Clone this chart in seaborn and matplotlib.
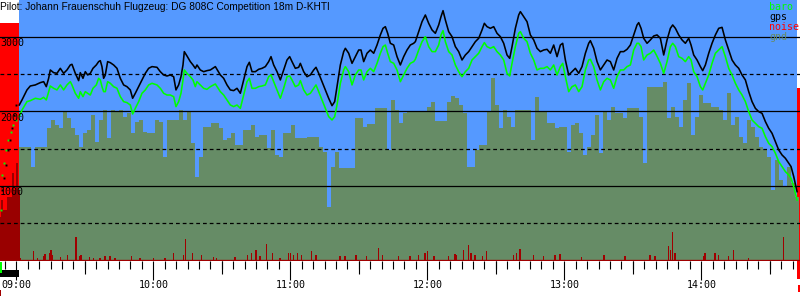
import matplotlib
matplotlib.use("Agg")
import matplotlib.pyplot as plt
import matplotlib.transforms as mtransforms
import numpy as np
import seaborn as sns

TITLE = "Pilot: Johann Frauenschuh Flugzeug: DG 808C Competition 18m D-KHTI"

# ---- flight track: minutes after 09:00, GPS altitude and baro altitude (m)
track_t = [1.31, 2.48, 4.67, 6.13, 8.32, 10.51, 11.97, 13.14, 14.16, 14.89, 16.35, 17.81, 19.27, 20.73, 22.19,
           23.65, 24.38, 25.84, 27.3, 28.03, 29.2, 30.22, 31.24, 32.41, 33.58, 35.04, 36.06, 36.79, 37.52, 38.25,
           38.98, 40.0, 41.17, 42.63, 44.09, 45.55, 47.01, 48.47, 49.93, 50.95, 52.12, 53.58, 55.04, 56.5, 57.96,
           59.42, 61.61, 63.07, 64.53, 65.99, 67.45, 68.91, 69.93, 71.1, 72.12, 73.0, 73.58, 74.75, 76.21, 77.38,
           78.4, 79.13, 80.59, 82.05, 83.51,
           84.98, 87.17, 89.36, 90.82, 92.28, 93.74, 95.2, 96.66, 98.12, 99.58, 101.04, 102.06, 103.23, 104.69,
           106.15, 107.61, 109.07, 110.53, 111.55, 112.72, 114.18, 115.64, 117.1, 118.56, 119.73, 120.75, 122.21,
           123.67, 124.4, 125.86, 127.32, 128.78, 130.24, 131.26, 132.43, 133.89, 135.35, 136.81, 138.27, 139.44,
           140.46, 141.92, 143.38, 144.11, 145.57, 147.03, 148.49, 149.95, 150.97, 152.14, 153.6, 155.06, 156.52,
           157.98, 159.44, 160.61, 161.63, 162.65, 163.82, 165.28, 166.74,
           168.2, 169.66, 171.12, 172.58, 174.04, 174.77, 176.23, 177.69, 179.15, 180.61, 182.07, 183.53, 184.99,
           186.01, 186.89, 187.91, 189.37, 190.83, 192.29, 193.75, 195.21, 196.67, 198.13, 199.59, 201.05, 202.51,
           203.97, 204.99, 206.16, 207.62, 209.08, 210.54, 212.0, 213.46, 214.92, 216.09, 217.11, 218.57, 220.03,
           220.76, 222.22, 223.68, 225.14, 226.6, 228.06, 229.52, 230.98, 232.44, 233.9, 235.36, 236.82, 238.28,
           239.3, 240.47, 241.93, 243.39, 244.85, 246.31, 247.77, 249.23, 250.69, 251.42, 252.88, 254.34,
           255.8, 257.26, 258.72, 260.18, 261.64, 263.1, 264.56, 266.02, 267.48, 268.94, 270.4, 271.86, 272.59,
           273.61, 274.78, 276.24, 277.7, 279.16, 280.62, 282.08, 283.54, 285.0, 286.46, 287.48, 288.65, 290.11,
           291.57, 293.03, 294.49, 295.51, 296.68, 298.14, 299.6, 300.62, 301.79, 303.25, 304.71, 306.17, 307.63,
           309.09, 310.55, 312.01, 313.47, 314.93, 316.39, 317.85, 319.31, 320.77, 322.23, 323.69, 325.15, 326.61,
           328.07, 329.53, 330.99, 332.45, 333.91, 335.37, 336.83, 338.29, 339.31, 340.48, 341.94]

gps_alt = [2087, 2154, 2289, 2342, 2356, 2387, 2400, 2333, 2445, 2557, 2521, 2512, 2579, 2512, 2557,
           2624, 2633, 2512, 2414, 2521, 2445, 2534, 2490, 2512, 2579, 2624, 2669, 2682, 2602, 2445,
           2490, 2669, 2655, 2624, 2579, 2445, 2356, 2333, 2289, 2177, 2244, 2333, 2423, 2512, 2579,
           2602, 2593, 2534, 2490, 2476, 2490, 2467, 2289, 2356, 2467, 2624, 2803, 2745, 2669, 2624,
           2579, 2624, 2557, 2534, 2548,
           2557, 2602, 2490, 2445, 2356, 2289, 2280, 2311, 2244, 2423, 2602, 2660, 2534, 2534,
           2566, 2579, 2602, 2669, 2736, 2624, 2534, 2423, 2557, 2691, 2736, 2669, 2579,
           2593, 2646, 2534, 2467, 2490, 2557, 2593, 2512, 2400, 2289, 2177, 2078, 2132,
           2333, 2624, 2803, 2848, 2781, 2646, 2736, 2825, 2825, 2669, 2781, 2825, 2781,
           2892, 3027, 3116, 3138, 3049, 2915, 2892, 2736,
           2624, 2736, 2825, 2892, 2915, 2937, 3071, 3205, 3295, 3183, 3094, 3049, 3161,
           3273, 3353, 3228, 3071, 3004, 2870, 2803, 2691, 2758, 2803, 2870, 2937, 2982,
           3094, 3183, 3138, 3116, 3138, 3049, 3004, 2915, 2758, 2713, 2870, 3116, 3295,
           3340, 3273, 3205, 3027, 2960, 2848, 2803, 2825, 2834, 2781, 2892, 2736, 2892,
           2915, 2691, 2490, 2534, 2579, 2512, 2602, 2781, 2915, 2950, 2848, 2669,
           2557, 2624, 2691, 2669, 2557, 2713, 2803, 2803, 2834, 2892, 3027, 3161, 3192,
           3116, 2982, 2915, 2960, 3013, 3027, 2982, 2758, 2960, 3116, 3161, 3116, 3027,
           2960, 2915, 2982, 2892, 2758, 2691, 2602, 2548, 2624, 2781, 2915, 3027, 3116,
           3129, 2960, 2825, 2691, 2624, 2579, 2490, 2423, 2266, 2132, 2042, 1998, 1975,
           1864, 1774, 1707, 1595, 1483, 1416, 1372, 1305, 1260, 1126, 924]

baro_alt = [1931, 2018, 2132, 2145, 2177, 2163, 2190, 2154, 2266, 2342, 2311, 2289, 2356, 2289, 2356,
            2400, 2356, 2244, 2177, 2266, 2199, 2266, 2244, 2221, 2311, 2356, 2445, 2423, 2333, 2266,
            2266, 2400, 2378, 2333, 2311, 2199, 2132, 2119, 2087, 1966, 2042, 2132, 2244, 2289, 2356,
            2378, 2356, 2311, 2244, 2221, 2221, 2199, 2065, 2132, 2244, 2423, 2557, 2512, 2467, 2423,
            2333, 2400, 2356, 2311, 2297,
            2333, 2369, 2266, 2221, 2154, 2087, 2065, 2087, 2042, 2221, 2400, 2445, 2311, 2311,
            2333, 2342, 2356, 2467, 2490, 2400, 2289, 2177, 2311, 2467, 2476, 2423, 2333,
            2356, 2414, 2289, 2221, 2244, 2311, 2356, 2266, 2154, 2042, 1931, 1886, 1931,
            2087, 2378, 2557, 2602, 2534, 2356, 2490, 2557, 2557, 2423, 2534, 2579, 2534,
            2646, 2781, 2870, 2892, 2781, 2669, 2646, 2557,
            2400, 2490, 2579, 2646, 2669, 2700, 2825, 2937, 3004, 2870, 2803, 2803, 2892,
            3027, 3085, 2937, 2803, 2758, 2624, 2534, 2467, 2534, 2579, 2691, 2736, 2781,
            2870, 2924, 2870, 2848, 2870, 2803, 2758, 2691, 2512, 2476, 2646, 2870, 3049,
            3071, 2982, 2937, 2781, 2691, 2557, 2579, 2579, 2602, 2557, 2624, 2490, 2602,
            2646, 2467, 2266, 2333, 2356, 2266, 2333, 2557, 2691, 2700, 2602, 2423,
            2289, 2400, 2445, 2423, 2311, 2467, 2557, 2557, 2602, 2624, 2825, 2915, 2915,
            2870, 2691, 2758, 2781, 2825, 2740, 2646, 2512, 2669, 2870, 2915, 2870, 2736,
            2713, 2669, 2736, 2691, 2534, 2467, 2333, 2289, 2378, 2490, 2646, 2781, 2825,
            2870, 2736, 2579, 2490, 2378, 2289, 2221, 2132, 1998, 1886, 1841, 1796, 1774,
            1662, 1573, 1528, 1439, 1327, 1260, 1193, 1148, 1103, 991, 812]

# ---- fixes logged before the start (tow / engine climb)
pre_t = [-6.7, -6.3, -5.4, -4.5, -3.6, -2.3, -1.4, -0.1]
pre_baro = [678, 1147, 1308, 1483, 1617, 1724, 1818, 1885]
pre_gps_t = [-6.3, -5.4, -4.5, -3.6, -2.8, -1.9, -1.0, -0.1]
pre_gps = [946, 1107, 1281, 1483, 1617, 1778, 1952, 2086]

# ---- ground elevation under the track, logged every 105 s from 09:01:18
gnd_start = 1.31
gnd_step = 1.752
gnd_alt = [1519, 1519, 1519, 1260, 1528, 1528, 1528, 1774, 1886, 1819, 1774, 2003, 1908, 1774, 1685, 1528,
           1707, 1752, 1953, 1595, 1886, 2020, 1640, 2020, 1998, 2020, 1931, 1975, 1707, 1864, 1886, 1729,
           1707, 1707, 1886, 1864, 1394, 1886, 1886, 1886, 2020, 1886, 1998, 1573, 1126, 1394, 1796, 1796,
           1841, 1841, 1774, 1618, 1640, 1707, 1550, 1550, 1752, 1752, 1819, 1662, 1685, 1685, 1506, 1752,
           1416, 1394, 1707, 1707, 1819, 1640, 1640, 1640, 1662, 1662, 1662, 1528, 1461, 723, 1260, 1461,
           1237, 1237, 1237, 1237, 1908, 1908, 1796, 1832, 1832, 2042, 2042, 2042, 1483, 2154, 2020, 1841,
           1975, 1998, 1998, 1998, 1998, 1998, 2065, 2132, 1873, 1873, 1873, 2132, 2208, 2177, 2087, 1975,
           1260, 1260, 1483, 1550, 1550, 1998, 2445, 2087, 1774, 2020, 1931, 1796, 2020, 2020, 2020, 2020,
           1618, 2190, 1998, 1998, 1841, 1841, 1774, 1796, 1796, 1461, 1819, 1841, 1707, 1416, 1528, 1685,
           1953, 1439,
           1998, 1886, 2065, 1975, 1975, 1908, 2042, 2042, 2042, 1931, 1305, 2324, 2324, 2324, 2324, 2400,
           1908, 2065, 1931, 1796, 2154, 2378, 1685, 1931, 2221, 2110, 2110, 2065, 2065, 2020, 1886, 2244,
           1819, 1931, 1662, 1573, 1886, 1796, 1662, 1528, 1483, 1394, 946, 1349, 1081, 991, 1260, 1036, 857]

# ---- noise (ENL) peaks, same vertical scale
noise_t = [1.6, 7.4, 9.2, 11.8, 12.6, 14.5, 15.2, 15.9, 19.4, 22.5, 26.1, 27.6, 28.3, 32.0, 33.7, 36.7, 38.8,
           41.0, 43.2, 50.5, 54.2, 60.0, 65.1, 68.8, 73.1, 74.0, 77.3, 81.2, 86.3, 87.8, 95.8, 101.2, 103.1,
           105.0, 106.7, 109.7, 112.3, 115.5, 119.3, 120.2, 121.3, 123.1, 125.0, 129.4, 131.3, 141.8, 144.0,
           148.8, 153.5, 158.6, 160.5, 167.3, 172.4, 176.1, 179.0, 180.2, 183.0, 189.2, 192.2, 192.9, 195.8,
           198.0, 199.2, 200.9, 204.3, 206.0, 217.7, 219.2, 220.6, 226.4, 230.8, 236.0, 238.1, 247.6, 257.4,
           266.6, 277.5, 279.7, 285.5, 286.6, 287.3, 288.5, 300.9, 301.6, 306.0, 307.5, 311.8, 314.0, 320.6,
           335.9]
noise_val = [31, 121, 31, 54, 90, 98, 144, 76, 44, 76, 322, 54, 76, 44, 31, 31, 54,
             67, 31, 63, 31, 31, 31, 107, 76, 282, 98, 76, 44, 31, 44, 76, 98,
             144, 54, 224, 98, 31, 98, 107, 76, 98, 76, 121, 76, 54, 63,
             76, 54, 165, 76, 63, 63, 76, 98, 121, 54, 54, 90, 76, 144,
             211, 98, 76, 63, 130, 76, 98, 152, 76, 63, 76, 90, 44, 76,
             63, 76, 54, 197, 144, 389, 98, 63, 98, 98, 76, 63, 144, 31,
             322]
pre_noise_t = [-7.0, -6.1, -5.2, -4.3, -3.4, -2.5, -1.6, -0.7, 0.2, 1.1]
pre_noise_val = [580, 810, 680, 680, 850, 850, 1170, 950, 1310, 950]

# ---- engine runs: (start, end, indicator level in m)
engine_start = [-7.2, 342.0]
engine_end = [1.3, 343.3]
engine_level = [3187, 2315]

hour_pos = [0, 60, 120, 180, 240, 300]
hour_labels = ["09:00", "10:00", "11:00", "12:00", "13:00", "14:00"]
alt_major = [1000, 2000, 3000]
alt_minor = [500, 1500, 2500]
legend_names = ["baro", "gps", "noise", "gnd"]

BLUE = "#5599ff"
GREEN = "#00ff00"
RED = "#ff0000"
DARKRED = "#a00000"
GND = "#668c66"
MONO = "DejaVu Sans Mono"

YMAX = 3496
XMIN, XMAX = -7.14, 343.23

fig = plt.figure(figsize=(8, 3), dpi=100)
fig.patch.set_facecolor("white")
ax = fig.add_axes([0, 39.5 / 300, 1, 260.5 / 300])
ax.set_facecolor(BLUE)
ax.set_xlim(XMIN, XMAX)
ax.set_ylim(0, YMAX)
for s in ax.spines.values():
    s.set_visible(False)

# engine runs
for a, b, lvl in zip(engine_start, engine_end, engine_level):
    frac = lvl / YMAX
    ax.axvspan(a, b, ymin=frac, ymax=1, color="white", lw=0, zorder=0.5)
    bottom = -0.071 if a > 0 else 0
    r = ax.axvspan(a, b, ymin=bottom, ymax=frac, color=RED, lw=0, zorder=0.6)
    r.set_clip_on(False)

# ground
gnd_t = gnd_start + gnd_step * np.arange(len(gnd_alt))
gx = np.append(gnd_t, gnd_t[-1] + gnd_step)
gy = np.append(gnd_alt, gnd_alt[-1])
ax.fill_between(gx, 0, gy, step="post", color=GND, lw=0, zorder=1)

# noise
ax.bar(noise_t, noise_val, width=0.6, color=DARKRED, lw=0, zorder=2)
ax.bar(pre_noise_t, pre_noise_val, width=0.95, color="#990000", lw=0, zorder=2)
ax.axhline(0, color=DARKRED, lw=2.4, zorder=2)

# reference lines
for v in alt_major:
    ax.axhline(v, color="black", lw=0.9, zorder=3)
for v in alt_minor:
    ax.axhline(v, color="black", lw=0.9, ls=(0, (3.0, 2.4)), zorder=3)
ytr = mtransforms.blended_transform_factory(ax.transAxes, ax.transData)
for v in alt_major:
    ax.text(0.0, v - 14, str(v), transform=ytr, ha="left", va="top",
            fontsize=7.2, family=MONO, color="black", zorder=6)

# tracks
sns.lineplot(x=track_t, y=baro_alt, ax=ax, color=GREEN, lw=1.15, sort=False,
             estimator=None, zorder=4, legend=False)
sns.lineplot(x=track_t, y=gps_alt, ax=ax, color="black", lw=1.15, sort=False,
             estimator=None, zorder=5, legend=False)
ax.plot(pre_t, pre_baro, ls="none", marker="s", ms=1.4, color=GREEN, mew=0, zorder=5)
ax.plot(pre_gps_t, pre_gps, ls="none", marker="s", ms=1.4, color="black", mew=0, zorder=5)

# x axis ticks
ax.set_xticks(hour_pos)
ax.set_xticklabels(hour_labels, family=MONO, fontsize=7.2)
ax.set_xticks(np.arange(-5, 341, 5), minor=True)
ax.tick_params(axis="x", which="major", direction="out", length=13.4, width=0.8,
               color="black", pad=0.6)
ax.tick_params(axis="x", which="minor", direction="out", length=5.5, width=0.8, color="black")
ax.tick_params(axis="y", left=False, labelleft=False)
ax.set_xlabel("")
ax.set_ylabel("")
sec = ax.secondary_xaxis("bottom")
sec.set_xticks([-30 + 60 * k for k in range(1, 7)])
sec.tick_params(axis="x", direction="out", length=9.1, width=0.8, labelbottom=False)
sec.spines["bottom"].set_visible(False)

# small markers under the axis at the start / end
xtr = mtransforms.blended_transform_factory(ax.transData, ax.transAxes)
ax.add_patch(plt.Rectangle((engine_start[0], -0.0633), engine_end[0] - engine_start[0], 0.0268,
                           transform=xtr, color="black", lw=0, clip_on=False, zorder=6))
ax.add_patch(plt.Rectangle((XMIN, -0.048), 0.9, 0.042, transform=xtr, color=GREEN, lw=0,
                           clip_on=False, zorder=6))
ax.add_patch(plt.Rectangle((XMIN, -0.136), 0.6, 0.023, transform=xtr, color=DARKRED, lw=0,
                           clip_on=False, zorder=6))
ax.add_patch(plt.Rectangle((engine_start[1] + 0.3, -0.121), 0.8, 0.027, transform=xtr, color=RED, lw=0,
                           clip_on=False, zorder=6))

# title and legend
fig.text(0.0, 1 - 7.5 / 300, TITLE, ha="left", va="center", fontsize=7.3,
         family="Liberation Sans", color="black")
for i, (name, col) in enumerate(zip(legend_names, [GREEN, "black", RED, GND])):
    fig.text(769 / 800, 1 - (6.7 + 10 * i) / 300, name, ha="left", va="center",
             fontsize=7.2, family=MONO, color=col)

fig.savefig("out.png", dpi=100)
